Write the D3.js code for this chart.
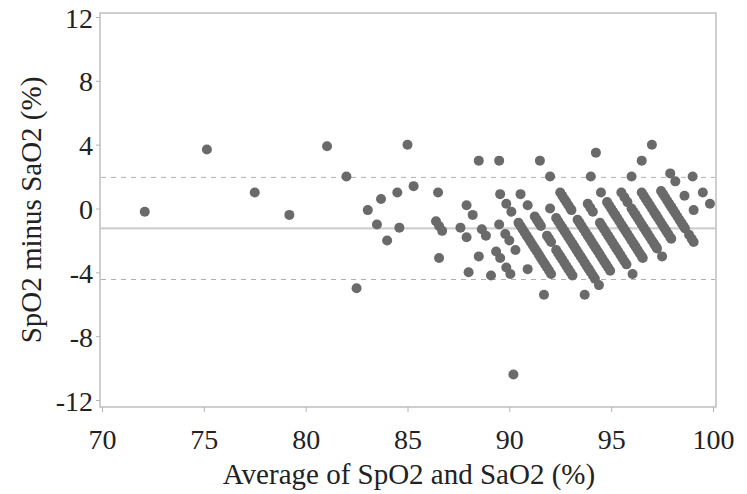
<!DOCTYPE html>
<html>
<head>
<meta charset="utf-8">
<script src="https://cdnjs.cloudflare.com/ajax/libs/d3/7.8.5/d3.min.js"></script>
<style>
  html, body { margin: 0; padding: 0; background: #fff; }
  svg { display: block; }
  .axisLabel text { font-family: 'Liberation Serif', 'DejaVu Serif', serif; font-size: 28px; fill: #222; }
  .axisLabel line { stroke: #b4b4b4; }
  .axisLabel path { display: none; }
  .title { font-family: 'Liberation Serif', 'DejaVu Serif', serif; font-size: 29px; fill: #222; }
</style>
</head>
<body>
<svg width="747" height="494"></svg>
<script>
// Bland-Altman: x = average of SpO2 and SaO2, y = SpO2 minus SaO2
const xTicks = [70, 75, 80, 85, 90, 95, 100]
const yTicks = [-12, -8, -4, 0, 4, 8, 12]

// mean bias and limits of agreement
const meanBias = -1.25
const limitsOfAgreement = [1.95, -4.45]

// scattered readings, mostly below 90 %
const lowRangePoints = [
  [72.1, -0.2], [75.15, 3.7], [77.5, 1.0], [79.2, -0.4], [81.05, 3.9], [82.0, 2.0],
  [82.5, -5.0], [83.05, -0.1], [83.5, -1.0], [83.7, 0.6], [84.0, -2.0], [84.5, 1.0],
  [84.6, -1.2], [85.0, 4.0], [85.3, 1.4], [86.4, -0.8], [86.55, -1.1], [86.7, -1.4],
  [86.5, 1.0], [86.55, -3.1], [87.6, -1.2], [87.9, 0.2], [88.2, -0.4], [87.9, -1.8],
  [88.5, -3.0], [88.0, -4.0], [89.1, -4.2], [88.65, -1.3], [88.85, -1.7], [89.5, -1.0],
  [89.8, -1.6], [90.0, -2.0], [89.35, -2.7], [89.55, -3.1], [90.3, -2.6], [89.85, -3.7],
  [90.05, -4.1], [90.9, -3.8], [91.7, -5.4], [88.5, 3.0], [89.55, 0.9], [89.85, 0.3],
  [90.1, -0.2], [90.2, -10.4]
]

// isolated readings in the 90-100 % range
const highRangePoints = [
  [89.5, 3.0], [90.55, 0.9], [90.9, 0.2], [93.7, -5.4], [92.0, 0.0], [91.5, 3.0],
  [92.0, 2.0], [94.0, 2.0], [94.5, 1.0], [94.25, 3.5], [96.0, 2.0], [96.5, 3.0],
  [97.0, 4.0], [97.9, 2.2], [98.15, 1.7], [98.6, 0.8], [99.05, -0.1], [99.0, 2.0],
  [99.5, 1.0], [99.85, 0.3], [96.05, -4.1], [97.5, -3.0], [94.4, -4.8]
]

// dense diagonal bands (one per integer SpO2 reading)
const bandPoints = [
  // SpO2 90
  [90.45, -0.9], [90.55, -1.1], [90.65, -1.3], [90.75, -1.5], [90.85, -1.7], [90.95, -1.9],
  [91.05, -2.1], [91.15, -2.3], [91.25, -2.5], [91.35, -2.7], [91.45, -2.9], [91.55, -3.1],
  [91.65, -3.3], [91.75, -3.5], [91.85, -3.7], [91.95, -3.9], [92.05, -4.1],
  // SpO2 91
  [91.25, -0.5], [91.35, -0.7], [91.45, -0.9], [91.55, -1.1],
  [91.85, -1.7], [91.95, -1.9], [92.05, -2.1],
  [92.3, -2.6], [92.4, -2.8], [92.5, -3.0], [92.6, -3.2], [92.7, -3.4], [92.8, -3.6],
  [92.9, -3.8], [93.0, -4.0], [93.1, -4.2],
  // SpO2 92
  [92.3, -0.6], [92.4, -0.8], [92.5, -1.0], [92.6, -1.2], [92.7, -1.4], [92.8, -1.6],
  [92.9, -1.8], [93.0, -2.0], [93.1, -2.2], [93.2, -2.4], [93.3, -2.6], [93.4, -2.8],
  [93.5, -3.0], [93.6, -3.2], [93.7, -3.4], [93.8, -3.6], [93.9, -3.8], [94.0, -4.0],
  [94.1, -4.2], [94.2, -4.4],
  // SpO2 93
  [92.5, 1.0], [92.6, 0.8], [92.7, 0.6], [92.8, 0.4], [92.9, 0.2], [93.0, 0.0], [93.05, -0.1],
  [93.35, -0.7], [93.45, -0.9], [93.55, -1.1], [93.65, -1.3], [93.75, -1.5], [93.85, -1.7],
  [93.95, -1.9], [94.05, -2.1], [94.15, -2.3], [94.25, -2.5], [94.35, -2.7], [94.45, -2.9],
  [94.55, -3.1], [94.65, -3.3], [94.75, -3.5], [94.85, -3.7], [94.95, -3.9],
  // SpO2 94
  [93.85, 0.3], [93.975, 0.05], [94.1, -0.2],
  [94.45, -0.9], [94.55, -1.1], [94.65, -1.3], [94.75, -1.5], [94.85, -1.7], [94.95, -1.9],
  [95.05, -2.1], [95.15, -2.3], [95.25, -2.5], [95.35, -2.7], [95.45, -2.9], [95.55, -3.1],
  [95.65, -3.3], [95.75, -3.5],
  // SpO2 95
  [94.8, 0.4], [94.9, 0.2], [95.0, 0.0], [95.1, -0.2], [95.2, -0.4], [95.3, -0.6],
  [95.4, -0.8], [95.5, -1.0], [95.6, -1.2], [95.7, -1.4], [95.8, -1.6], [95.9, -1.8],
  [96.0, -2.0], [96.1, -2.2], [96.2, -2.4], [96.3, -2.6], [96.4, -2.8], [96.5, -3.0],
  [96.55, -3.1],
  // SpO2 96
  [95.5, 1.0], [95.65, 0.7], [95.8, 0.4],
  [96.0, 0.0], [96.1, -0.2], [96.2, -0.4], [96.3, -0.6], [96.4, -0.8], [96.5, -1.0],
  [96.6, -1.2], [96.7, -1.4], [96.8, -1.6], [96.9, -1.8], [97.0, -2.0], [97.1, -2.2],
  [97.2, -2.4], [97.25, -2.5],
  // SpO2 97
  [96.5, 1.0], [96.6, 0.8], [96.7, 0.6], [96.8, 0.4], [96.9, 0.2], [97.0, 0.0],
  [97.1, -0.2], [97.2, -0.4], [97.3, -0.6], [97.4, -0.8], [97.5, -1.0], [97.6, -1.2],
  [97.7, -1.4], [97.8, -1.6], [97.9, -1.8], [97.95, -1.9],
  // SpO2 98
  [97.45, 1.1], [97.55, 0.9], [97.65, 0.7], [97.75, 0.5], [97.85, 0.3], [97.95, 0.1],
  [98.05, -0.1], [98.15, -0.3], [98.25, -0.5], [98.35, -0.7], [98.45, -0.9], [98.55, -1.1],
  [98.625, -1.25], [98.825, -1.65], [98.95, -1.9], [99.05, -2.1]
]

draw()

function draw () {
  const dim = setDimensions()
  const scales = setScales(dim)
  const g = createContainer(dim)

  drawFrame(g, dim)
  drawReferenceLines(g, dim, scales)
  drawPoints(g, scales)
  drawAxes(dim, scales)
  drawTitles()
}

function setDimensions () {
  const margin = {top: 13, right: 31, bottom: 87, left: 100}
  const width = 747 - margin.left - margin.right
  const height = 494 - margin.top - margin.bottom
  return { width, height, margin }
}

function setScales ({ width, height }) {
  return {
    xScale: d3.scaleLinear().domain([70, 100]).range([2, width - 3]),
    yScale: d3.scaleLinear().domain([-12, 12]).range([height - 7, 4])
  }
}

function createContainer ({ margin }) {
  return d3.select('svg')
    .append('g')
      .attr('transform', 'translate(' + margin.left + ',' + margin.top + ')')
}

function drawFrame (g, { width, height }) {
  g.append('rect')
    .attr('width', width)
    .attr('height', height)
    .attr('fill', '#fff')
    .attr('stroke', '#c2c2c2')
    .attr('stroke-width', 1.6)
}

function drawReferenceLines (g, { width }, { yScale }) {
  g.append('line')
    .attr('x1', 1).attr('x2', width - 1)
    .attr('y1', yScale(meanBias)).attr('y2', yScale(meanBias))
    .attr('stroke', '#cfcfcf')
    .attr('stroke-width', 2.2)

  g.selectAll('.limit')
    .data(limitsOfAgreement)
    .enter().append('line')
      .attr('class', 'limit')
      .attr('x1', 1).attr('x2', width - 1)
      .attr('y1', (d) => yScale(d)).attr('y2', (d) => yScale(d))
      .attr('stroke', '#b0b0b0')
      .attr('stroke-width', 1)
      .attr('stroke-dasharray', '5,5')
}

function drawPoints (g, { xScale, yScale }) {
  const all = lowRangePoints.concat(highRangePoints, bandPoints)
  g.selectAll('.dot')
    .data(all)
    .enter().append('circle')
      .attr('class', 'dot')
      .attr('cx', (d) => xScale(d[0]))
      .attr('cy', (d) => yScale(d[1]))
      .attr('r', 5)
      .attr('fill', '#6a6a6a')
}

function drawAxes ({ width, height, margin }, { xScale, yScale }) {
  const svg = d3.select('svg')

  const xAxis = svg.append('g')
    .attr('class', 'axisLabel bottomAxis')
    .attr('transform', 'translate(' + margin.left + ',' + (margin.top + height) + ')')
    .call(d3.axisBottom(xScale).tickValues(xTicks).tickSize(5))
  xAxis.selectAll('text').attr('y', 42).attr('dy', 0)

  const yAxis = svg.append('g')
    .attr('class', 'axisLabel leftAxis')
    .attr('transform', 'translate(' + margin.left + ',' + margin.top + ')')
    .call(d3.axisLeft(yScale).tickValues(yTicks).tickSize(4).tickFormat((d) => String(d)))
  yAxis.selectAll('text').attr('x', -7).attr('dy', '0.36em')
}

function drawTitles () {
  const svg = d3.select('svg')
  svg.append('text')
    .attr('class', 'title')
    .attr('x', 409)
    .attr('y', 484)
    .attr('text-anchor', 'middle')
    .text('Average of SpO2 and SaO2 (%)')

  svg.append('text')
    .attr('class', 'title')
    .attr('transform', 'translate(41,210) rotate(-90)')
    .attr('text-anchor', 'middle')
    .text('SpO2 minus SaO2 (%)')
}
</script>
</body>
</html>
